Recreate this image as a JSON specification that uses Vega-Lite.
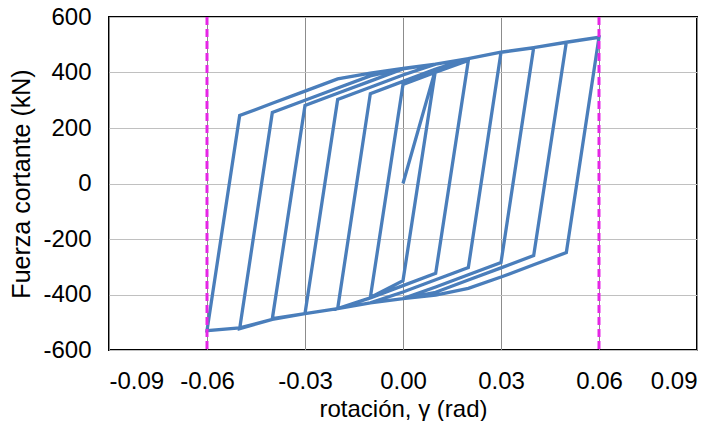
{
  "$schema": "https://vega.github.io/schema/vega-lite/v6.json",
  "autosize": "none",
  "width": 588,
  "height": 333,
  "padding": {"left": 109, "top": 17, "right": 28, "bottom": 71},
  "background": "white",
  "config": {
    "font": "Liberation Sans",
    "view": {"stroke": "black", "strokeWidth": 2},
    "axis": {"labelFont": "Liberation Sans", "titleFont": "Liberation Sans", "labelFontSize": 24, "titleFontSize": 24, "titleFontWeight": "normal", "labelColor": "black", "titleColor": "black", "ticks": false, "domain": false}
  },
  "datasets": {
    "loop": [
      {"i":1,"x":0,"y":0},{"i":2,"x":0.01,"y":413},{"i":3,"x":0,"y":-350},{"i":4,"x":-0.01,"y":-411},
      {"i":5,"x":0,"y":357},{"i":6,"x":0.01,"y":401},{"i":7,"x":0.02,"y":443},{"i":8,"x":0.01,"y":-324},
      {"i":9,"x":0,"y":-368},{"i":10,"x":-0.01,"y":-412},{"i":11,"x":-0.02,"y":-451},{"i":12,"x":-0.01,"y":324},
      {"i":13,"x":0,"y":368},{"i":14,"x":0.01,"y":412},{"i":15,"x":0.02,"y":450},{"i":16,"x":0.03,"y":473},
      {"i":17,"x":0.02,"y":-303},{"i":18,"x":0.01,"y":-347},{"i":19,"x":0,"y":-391},{"i":20,"x":-0.01,"y":-430},
      {"i":21,"x":-0.02,"y":-451},{"i":22,"x":-0.03,"y":-469},{"i":23,"x":-0.02,"y":303},{"i":24,"x":-0.01,"y":347},
      {"i":25,"x":0,"y":391},{"i":26,"x":0.01,"y":430},{"i":27,"x":0.02,"y":450},{"i":28,"x":0.03,"y":473},
      {"i":29,"x":0.04,"y":489},{"i":30,"x":0.03,"y":-285},{"i":31,"x":0.02,"y":-329},{"i":32,"x":0.01,"y":-373},
      {"i":33,"x":0,"y":-415},{"i":34,"x":-0.01,"y":-430},{"i":35,"x":-0.02,"y":-451},{"i":36,"x":-0.03,"y":-469},
      {"i":37,"x":-0.04,"y":-487},{"i":38,"x":-0.03,"y":281},{"i":39,"x":-0.02,"y":325},{"i":40,"x":-0.01,"y":369},
      {"i":41,"x":0,"y":413},{"i":42,"x":0.01,"y":430},{"i":43,"x":0.02,"y":450},{"i":44,"x":0.03,"y":473},
      {"i":45,"x":0.04,"y":490},{"i":46,"x":0.05,"y":509},{"i":47,"x":0.04,"y":-260},{"i":48,"x":0.03,"y":-304},
      {"i":49,"x":0.02,"y":-348},{"i":50,"x":0.01,"y":-392},{"i":51,"x":0,"y":-415},{"i":52,"x":-0.01,"y":-430},
      {"i":53,"x":-0.02,"y":-451},{"i":54,"x":-0.03,"y":-469},{"i":55,"x":-0.04,"y":-490},{"i":56,"x":-0.05,"y":-523},
      {"i":57,"x":-0.04,"y":256},{"i":58,"x":-0.03,"y":300},{"i":59,"x":-0.02,"y":344},{"i":60,"x":-0.01,"y":388},
      {"i":61,"x":0,"y":415},{"i":62,"x":0.01,"y":430},{"i":63,"x":0.02,"y":450},{"i":64,"x":0.03,"y":473},
      {"i":65,"x":0.04,"y":490},{"i":66,"x":0.05,"y":509},{"i":67,"x":0.06,"y":527},{"i":68,"x":0.05,"y":-249},
      {"i":69,"x":0.04,"y":-293},{"i":70,"x":0.03,"y":-337},{"i":71,"x":0.02,"y":-378},{"i":72,"x":0.01,"y":-402},
      {"i":73,"x":0,"y":-415},{"i":74,"x":-0.01,"y":-430},{"i":75,"x":-0.02,"y":-451},{"i":76,"x":-0.03,"y":-469},
      {"i":77,"x":-0.04,"y":-490},{"i":78,"x":-0.05,"y":-520},{"i":79,"x":-0.06,"y":-530},{"i":80,"x":-0.05,"y":245},
      {"i":81,"x":-0.04,"y":289},{"i":82,"x":-0.03,"y":333},{"i":83,"x":-0.02,"y":377},{"i":84,"x":-0.01,"y":398},
      {"i":85,"x":0,"y":415},{"i":86,"x":0.01,"y":430},{"i":87,"x":0.02,"y":450},{"i":88,"x":0.03,"y":473},
      {"i":89,"x":0.04,"y":490},{"i":90,"x":0.05,"y":509},{"i":91,"x":0.06,"y":527}
    ],
    "limits": [{"x": -0.06}, {"x": 0.06}]
  },
  "layer": [
    {
      "data": {"name": "loop"},
      "mark": {"type": "line", "color": "#4A7EBB", "strokeWidth": 3.3, "strokeJoin": "miter"},
      "encoding": {
        "x": {"field": "x", "type": "quantitative", "scale": {"domain": [-0.09, 0.09], "nice": false, "zero": false},
              "axis": {"values": [-0.09, -0.06, -0.03, 0, 0.03, 0.06, 0.09], "labelExpr": "(datum.value < -0.0001 ? '-' : '') + format(abs(datum.value), '.2f')", "title": "rotación, γ (rad)", "gridColor": "#8c8c8c", "gridWidth": 1, "labelPadding": 19, "titlePadding": 4}},
        "y": {"field": "y", "type": "quantitative", "scale": {"domain": [-600, 600], "nice": false},
              "axis": {"values": [-600, -400, -200, 0, 200, 400, 600], "labelExpr": "(datum.value < 0 ? '-' : '') + format(abs(datum.value), 'd')", "title": "Fuerza cortante (kN)", "titleFontSize": 25, "gridColor": "#c0c0c0", "gridWidth": 1, "labelPadding": 18, "titlePadding": 8}},
        "order": {"field": "i", "type": "quantitative"}
      }
    },
    {
      "data": {"name": "limits"},
      "mark": {"type": "rule", "color": "#E526E5", "strokeWidth": 3, "strokeDash": [8, 4]},
      "encoding": {"x": {"field": "x", "type": "quantitative"}}
    }
  ]
}
